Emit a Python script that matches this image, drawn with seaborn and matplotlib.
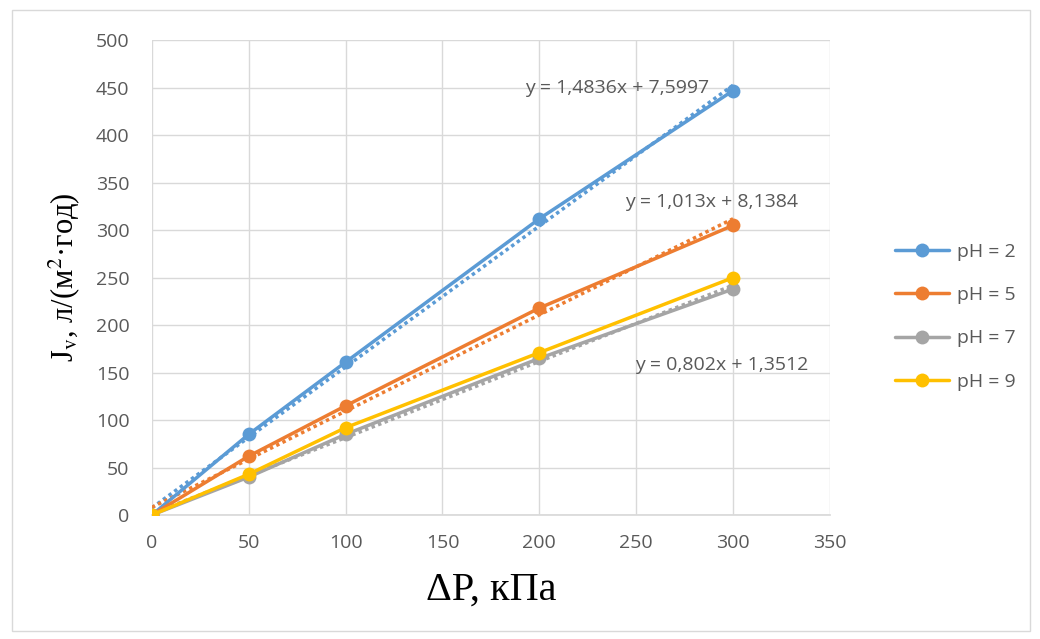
import numpy as np
import pandas as pd
import matplotlib
matplotlib.use("Agg")
import matplotlib.pyplot as plt
import seaborn as sns
from matplotlib.patches import Rectangle

# ---- data ----
pressure = [0, 50, 100, 200, 300]
flux_ph2 = [0, 85, 161, 312, 447]
flux_ph5 = [0, 62, 115, 218, 305]
flux_ph7 = [0, 40, 85, 165, 238]
flux_ph9 = [0, 43, 92, 171, 250]
series_labels = ["pH = 2", "pH = 5", "pH = 7", "pH = 9"]
colors = ["#5B9BD5", "#ED7D31", "#A5A5A5", "#FFC000"]

# trend lines (as printed on chart)
trend_labels = ["pH = 2", "pH = 5", "pH = 7"]
trend_slopes = [1.4836, 1.013, 0.802]
trend_intercepts = [7.5997, 8.1384, 1.3512]
trend_texts = ["y = 1,4836x + 7,5997", "y = 1,013x + 8,1384", "y = 0,802x + 1,3512"]
trend_text_pos = [(240, 450), (289, 330), (294, 158)]

x_ticks = [0, 50, 100, 150, 200, 250, 300, 350]
y_ticks = [0, 50, 100, 150, 200, 250, 300, 350, 400, 450, 500]

df = pd.DataFrame({
    "x": pressure * 4,
    "y": flux_ph2 + flux_ph5 + flux_ph7 + flux_ph9,
    "series": sum([[s] * len(pressure) for s in series_labels], []),
})

sns.set_theme(style="white")
plt.rcParams["font.family"] = ["Open Sans", "DejaVu Sans"]
plt.rcParams["mathtext.fontset"] = "stix"

fig = plt.figure(figsize=(10.4, 6.39), dpi=100)
fig.patches.append(Rectangle((0.012, 0.012), 0.978, 0.972, transform=fig.transFigure,
                             fill=False, edgecolor="#d9d9d9", linewidth=1.0))
ax = fig.add_axes([0.146, 0.194, 0.652, 0.743])

palette = dict(zip(series_labels, colors))

# trend lines
tx = np.array([0, 300])
for lab, k, b in zip(trend_labels, trend_slopes, trend_intercepts):
    ax.plot(tx, k * tx + b, linestyle=(0, (1, 1)), color=palette[lab], linewidth=2.5, zorder=2)

sns.lineplot(data=df, x="x", y="y", hue="series", palette=palette, marker="o",
             markersize=10, markeredgewidth=0, linewidth=2.5, ax=ax, zorder=3,
             hue_order=series_labels)

for t, (px, py) in zip(trend_texts, trend_text_pos):
    ax.text(px, py, t, ha="center", va="center", fontsize=14, color="#595959", zorder=4)

ax.set_xlim(0, 350)
ax.set_ylim(0, 500)
ax.set_xticks(x_ticks)
ax.set_yticks(y_ticks)
ax.tick_params(axis="both", labelsize=14, colors="#595959", length=0)
ax.tick_params(axis="x", pad=14)
ax.tick_params(axis="y", pad=16)
ax.grid(True, color="#d9d9d9", linewidth=1)
for s in ["top", "right", "left"]:
    ax.spines[s].set_visible(False)
ax.spines["bottom"].set_color("#d9d9d9")

ax.set_xlabel("ΔP, кПа", fontsize=29, family="Liberation Serif", color="black", labelpad=14)
ax.set_ylabel(r"J$_{\mathrm{v}}$, л/(м$^{2}$·год)", fontsize=22, family="Liberation Serif",
              color="black", labelpad=10)

leg = ax.legend(loc="upper left", bbox_to_anchor=(1.07, 0.61), frameon=False,
                fontsize=14, labelspacing=1.3, handlelength=2.8, handletextpad=0.4)
for txt in leg.get_texts():
    txt.set_color("#595959")

fig.savefig("out.png", dpi=100)
